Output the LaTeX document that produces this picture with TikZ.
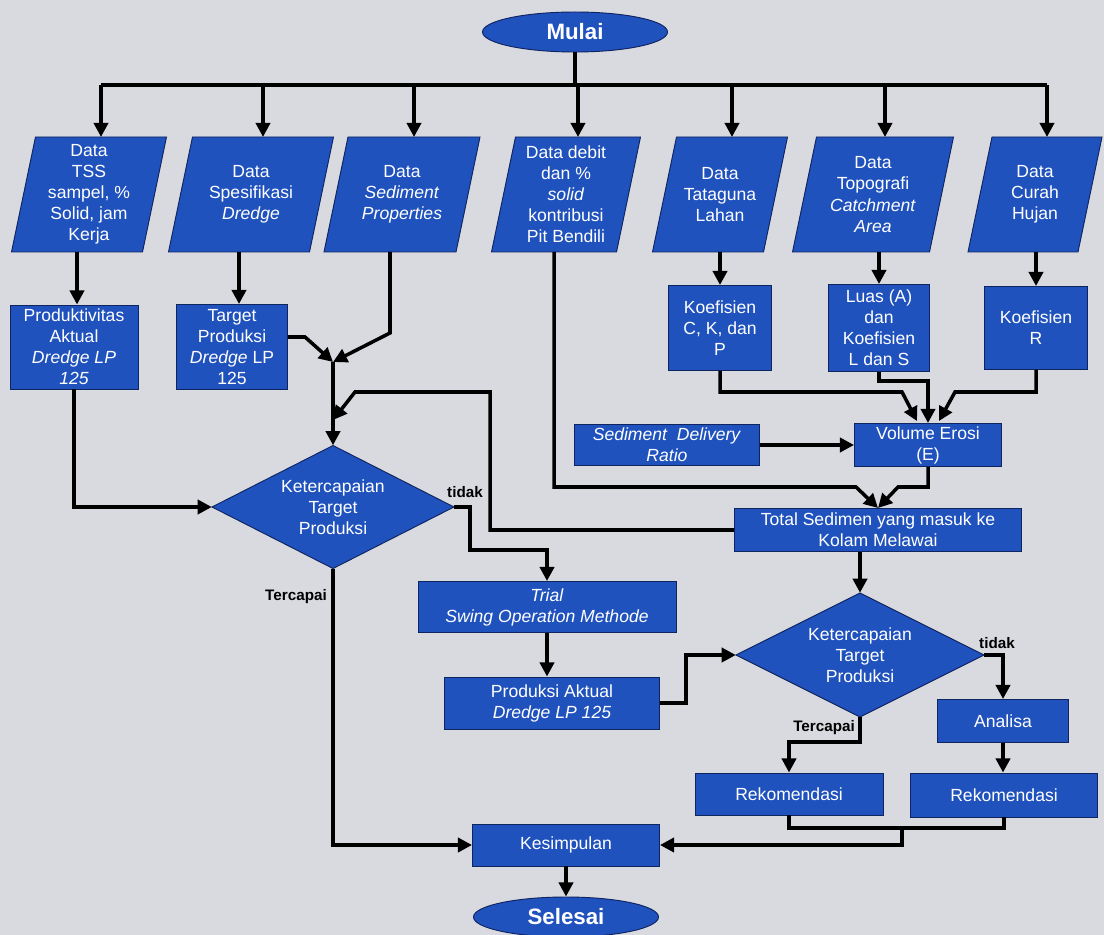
\documentclass[tikz,border=0pt]{standalone}
\usepackage{fontspec}
\setmainfont{Liberation Sans}
\usetikzlibrary{arrows.meta,shapes.geometric,calc}
\definecolor{bg}{RGB}{216,218,224}
\definecolor{boxblue}{RGB}{32,82,190}
\definecolor{boxedge}{RGB}{16,36,96}
\newcommand\paral[6]{%
  \path[shapefill] ({#2-#4/2+12},{#3-#5/2}) -- ({#2+#4/2+12},{#3-#5/2}) -- ({#2+#4/2-12},{#3+#5/2}) -- ({#2-#4/2-12},{#3+#5/2}) -- cycle;
  \node[wtext] (#1) at (#2,#3) {#6};
  \coordinate (#1-t) at ({#2+12},{#3-#5/2});
  \coordinate (#1-b) at ({#2-12},{#3+#5/2});
}
\newcommand\diam[6]{%
  \path[shapefill] ({#2-#4/2},#3) -- (#2,{#3-#5/2}) -- ({#2+#4/2},#3) -- (#2,{#3+#5/2}) -- cycle;
  \node[wtext, minimum width={#4*0.03cm}, minimum height={#5*0.03cm}] (#1) at (#2,#3) {#6};
}
\begin{document}
\begin{tikzpicture}[x=0.03cm,y=-0.03cm,
  shapefill/.style={fill=boxblue, draw=boxedge, line width=0.8pt},
  box/.style={rectangle, fill=boxblue, draw=boxedge, line width=0.8pt, text=white, align=center, font=\fontsize{15}{18}\selectfont, inner sep=1pt},
  term/.style={ellipse, fill=boxblue, draw=boxedge, line width=0.8pt, text=white, font=\fontsize{19}{22}\selectfont\bfseries, inner sep=0pt, minimum width=5.55cm, minimum height=1.2cm},
  wtext/.style={text=white, align=center, font=\fontsize{15}{18}\selectfont, inner sep=0pt},
  lbl/.style={font=\fontsize{13}{15}\selectfont\bfseries, text=black, inner sep=0pt},
  ln/.style={line width=3pt},
  arr/.style={line width=3pt, -{Triangle[length=12pt,width=12pt]}}]
\useasboundingbox (0,0) rectangle (1104,935);
\fill[bg] (0,0) rectangle (1104,935);

% terminals
\node[term] (mulai) at (575,32) {Mulai};
\node[term] (selesai) at (566,917) {Selesai};

% input parallelograms
\paral{tss}{89}{194.5}{131}{115}{Data\\TSS\\sampel, \%\\Solid, jam\\Kerja}
\paral{spek}{251}{194.5}{141}{115}{Data\\Spesifikasi\\\textit{Dredge}}
\paral{sed}{402}{194.5}{132}{115}{Data\\\textit{Sediment}\\\textit{Properties}}
\paral{deb}{566}{194.5}{125}{115}{Data debit\\dan \%\\\textit{solid}\\kontribusi\\Pit Bendili}
\paral{tata}{720}{194.5}{111}{115}{Data\\Tataguna\\Lahan}
\paral{topo}{873}{194.5}{137}{115}{Data\\Topografi\\\textit{Catchment}\\\textit{Area}}
\paral{curah}{1035}{194.5}{110}{115}{Data\\Curah\\Hujan}

% process boxes
\node[box, minimum width=3.84cm, minimum height=2.52cm] (prod) at (74,347) {Produktivitas\\Aktual\\\textit{Dredge LP}\\\textit{125}};
\node[box, minimum width=3.33cm, minimum height=2.55cm] (target) at (232,347) {Target\\Produksi\\\textit{Dredge} LP\\125};
\node[box, minimum width=3.09cm, minimum height=2.55cm] (ckp) at (720,328) {Koefisien\\C, K, dan\\P};
\node[box, minimum width=3.03cm, minimum height=2.61cm] (luas) at (879,328) {Luas (A)\\dan\\Koefisien\\L dan S};
\node[box, minimum width=3.09cm, minimum height=2.49cm] (rr) at (1036,328) {Koefisien\\R};
\node[box, minimum width=5.55cm, minimum height=1.23cm] (sdr) at (667,445) {\textit{Sediment~~Delivery}\\\textit{Ratio}};
\node[box, minimum width=4.41cm, minimum height=1.29cm] (vol) at (928,445) {Volume Erosi\\(E)};
\node[box, minimum width=8.61cm, minimum height=1.29cm] (tot) at (878,530) {Total Sedimen yang masuk ke\\Kolam Melawai};
\node[box, minimum width=7.74cm, minimum height=1.53cm] (trial) at (547,607) {\textit{Trial}\\\textit{Swing Operation Methode}};
\node[box, minimum width=6.45cm, minimum height=1.56cm] (prodakt) at (552,703) {Produksi Aktual\\\textit{Dredge LP 125}};
\node[box, minimum width=3.93cm, minimum height=1.29cm] (analisa) at (1003,721) {Analisa};
\node[box, minimum width=5.64cm, minimum height=1.26cm] (rek1) at (789,794) {Rekomendasi};
\node[box, minimum width=5.61cm, minimum height=1.32cm] (rek2) at (1004,795) {Rekomendasi};
\node[box, minimum width=5.61cm, minimum height=1.26cm] (kes) at (566,845) {Kesimpulan};

% decisions
\diam{d1}{333}{507}{242}{123}{Ketercapaian\\Target\\Produksi}
\diam{d2}{860}{655}{248}{124}{Ketercapaian\\Target\\Produksi}

% helper coordinates
\coordinate (bus) at (0,85);
\coordinate (y333) at (0,333);
\coordinate (y337) at (0,337);
\coordinate (y487) at (0,487);
\coordinate (y828) at (0,828);
\coordinate (m1) at (333,362);
\coordinate (fb) at (333,420);
\coordinate (rj) at (902,828);
\coordinate (vL) at ($(vol.north)+(-11,-2)$);
\coordinate (vR) at ($(vol.north)+(11,-2)$);

% start bus
\draw[ln] (mulai.south) -- (mulai.south |- bus);
\draw[ln] (tss-t |- bus) -- (curah-t |- bus);
\foreach \p in {tss,spek,sed,deb,tata,topo,curah}{
  \draw[arr] (\p-t |- bus) -- (\p-t);
}

% left branch
\draw[arr] (tss-b) -- (tss-b |- prod.north);
\draw[arr] (spek-b) -- (spek-b |- target.north);
\draw[arr] (sed-b) -- (sed-b |- y333) -- (m1);
\draw[arr] (target.east |- y337) -- (305,337) -- (m1);
\draw[arr] (m1) -- (d1.north);
\draw[arr] (prod.south) |- (d1.west);
\draw[arr] (tot.west) -- (490,530) -- (490,392) -- (355,392) -- (fb);

% right branch
\draw[arr] (tata-b -| ckp.north) -- (ckp.north);
\draw[arr] (topo-b -| luas.north) -- (luas.north);
\draw[arr] (curah-b -| rr.north) -- (rr.north);
\draw[arr] (ckp.south) |- (902,392) -- (vL);
\draw[arr] (luas.south) |- (928,381) -- (vol.north);
\draw[arr] (rr.south) |- (955,392) -- (vR);
\draw[arr] (sdr.east) -- (vol.west);
\draw[arr] (deb-b) -- (deb-b |- y487) -- (856,487) -- (tot.north);
\draw[arr] (vol.south) -- (vol.south |- y487) -- (898,487) -- (tot.north);
\draw[arr] (tot.south -| d2.north) -- (d2.north);

% first decision
\draw[arr] (d1.east) -- (470,507) -- (470,550) -| (trial.north);
\node[lbl] (tidak1) at (465,492) {tidak};
\draw[arr] (d1.south) |- (kes.west);
\node[lbl] (terc1) at (296,597) {Tercapai};
\draw[arr] (trial.south) -- (trial.south |- prodakt.north);
\draw[arr] (prodakt.east) -- (686,703) |- (d2.west);

% second decision
\draw[arr] (d2.east) -| (analisa.north);
\node[lbl] (tidak2) at (997,643) {tidak};
\draw[arr] (d2.south) -- ++(0,25) -| (rek1.north);
\node[lbl] (terc2) at (824,728) {Tercapai};
\draw[arr] (analisa.south) -- (analisa.south |- rek2.north);
\draw[ln] (rek1.south) |- (y828 -| rek2.south) -- (rek2.south);
\draw[arr] (rj) |- (kes.east);
\draw[arr] (kes.south) -- (selesai.north);
\end{tikzpicture}
\end{document}
